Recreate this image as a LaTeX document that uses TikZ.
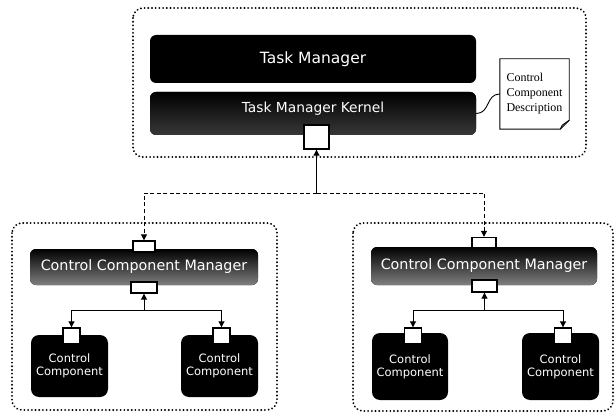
\documentclass[tikz,border=0pt]{standalone}
\usepackage{fontspec}
\setsansfont{DejaVu Sans}
\newfontfamily\notefont{Liberation Serif}
\usetikzlibrary{arrows.meta}
\newcommand\liftby[2]{\raisebox{#1}[\height][\depth]{#2}}
\tikzset{
  group/.style={draw=black, line width=2pt, dash pattern=on 0.1pt off 3.6pt, line cap=round, rounded corners=10pt},
  bar/.style={fill=black, draw=none, rounded corners=6pt, text=white, font=\sffamily, inner sep=0pt},
  ccbox/.style={fill=black, draw=none, rounded corners=8pt, text=white, font=\sffamily\fontsize{11.5}{13}\selectfont, align=center, inner sep=0pt},
  port/.style={fill=white, draw=black, line width=1.4pt, inner sep=0pt},
  link/.style={draw=black, line width=1pt, -{Triangle[length=6pt,width=6pt]}},
  dlink/.style={link, dash pattern=on 4pt off 2.5pt},
  notebox/.style={draw=none, fill=white, inner sep=0pt, align=left, text width=56pt, font=\notefont\fontsize{12}{15}\selectfont},
}
\begin{document}
\begin{tikzpicture}[x=1pt,y=-1pt]
\useasboundingbox (0,0) rectangle (616,417);
% groups
\draw[group] (133,8) rectangle (586,157);
\draw[group] (12,223) rectangle (277,410);
\draw[group] (353,223) rectangle (613,411);
% top
\node[bar, minimum width=326pt, minimum height=48pt, font=\sffamily\fontsize{15.5}{17}\selectfont] (tm) at (313,59) {Task Manager};
\node[bar, minimum width=326pt, minimum height=43pt, font=\sffamily\fontsize{13.8}{16}\selectfont, top color=black, middle color=black, bottom color=black!78] (tmk) at (313,113.5) {\liftby{5pt}{Task Manager Kernel}};
\node[port, minimum width=25pt, minimum height=24pt] (tmport) at (316.5,137) {};
% note
\node[notebox, minimum width=69pt, minimum height=70pt] (note) at (534.5,94) {Control\\Component\\Description};
\draw[line width=0.9pt] (note.north west) -- (note.north east) -- ([yshift=9pt]note.south east) -- ([xshift=-9pt]note.south east) -- (note.south west) -- cycle;
\draw[line width=0.9pt] ([yshift=9pt]note.south east) -- ([xshift=-7pt,yshift=4pt]note.south east) -- ([xshift=-9pt]note.south east);
\draw[line width=0.9pt] (tmk.east) .. controls +(14,0) and +(-14,0) .. (note.west);
% left group
\node[bar, minimum width=228pt, minimum height=36pt, font=\sffamily\fontsize{14.3}{16}\selectfont, top color=black, middle color=black, bottom color=black!50] (ccmL) at (144,267) {Control Component Manager};
\node[port, minimum width=22pt, minimum height=11pt] (ccmLtop) at (144,246.5) {};
\node[port, minimum width=26pt, minimum height=11pt] (ccmLlow) at (144,287.5) {};
\node[ccbox, minimum width=77pt, minimum height=62pt] (ccL1) at (69.5,366) {Control\\Component};
\node[ccbox, minimum width=77pt, minimum height=62pt] (ccL2) at (219.5,366) {Control\\Component};
\node[port, minimum width=17pt, minimum height=16pt] (pL1) at (71.5,336) {};
\node[port, minimum width=17pt, minimum height=16pt] (pL2) at (221.5,336) {};
% right group
\node[bar, minimum width=226pt, minimum height=38pt, font=\sffamily\fontsize{14.3}{16}\selectfont, top color=black, middle color=black, bottom color=black!50] (ccmR) at (484,266) {Control Component Manager};
\node[port, minimum width=24pt, minimum height=10pt] (ccmRtop) at (484,242.5) {};
\node[port, minimum width=25pt, minimum height=12pt] (ccmRlow) at (484.5,286) {};
\node[ccbox, minimum width=76pt, minimum height=67pt] (ccR1) at (410,366.5) {Control\\Component};
\node[ccbox, minimum width=77pt, minimum height=67pt] (ccR2) at (560.5,366.5) {Control\\Component};
\node[port, minimum width=17pt, minimum height=16pt] (pR1) at (413,336) {};
\node[port, minimum width=17pt, minimum height=16pt] (pR2) at (563,336) {};
% connectors
\coordinate (jTop) at (316.5,193);
\coordinate (jL) at (144,310);
\coordinate (jR) at (484.5,310);
\draw[link] (jTop) -- (tmport.south);
\draw[dlink] (jTop) -| (ccmLtop.north);
\draw[dlink] (jTop) -| (ccmRtop.north);
\draw[link] (jL) -- (ccmLlow.south);
\draw[link] (jL) -| (pL1.north);
\draw[link] (jL) -| (pL2.north);
\draw[link] (jR) -- (ccmRlow.south);
\draw[link] (jR) -| (pR1.north);
\draw[link] (jR) -| (pR2.north);
\end{tikzpicture}
\end{document}
